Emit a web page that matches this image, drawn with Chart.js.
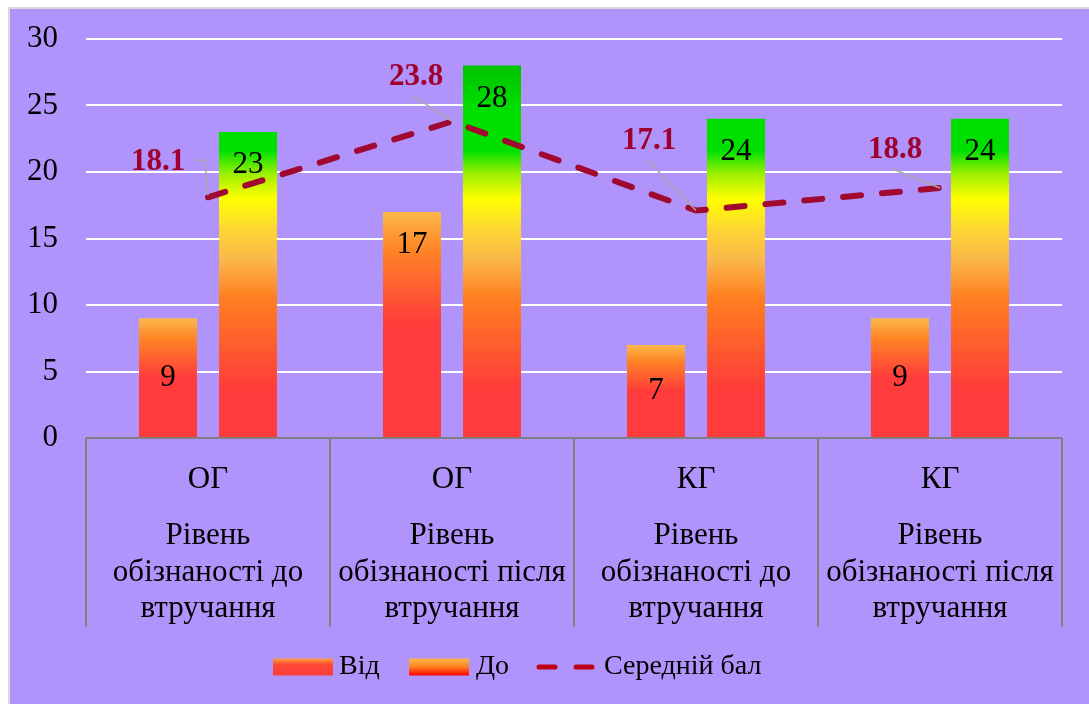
<!DOCTYPE html>
<html>
<head>
<meta charset="utf-8">
<script src="https://cdn.jsdelivr.net/npm/chart.js@4.4.1/dist/chart.umd.min.js"></script>
<style>
  html, body { margin: 0; padding: 0; background: #ffffff; }
  #wrap { width: 1089px; height: 704px; position: relative; }
</style>
</head>
<body>
<div id="wrap"><canvas id="chart" width="1089" height="704"></canvas></div>
<script>
// Groups and stages shown on the two-level category axis
const groups = ['ОГ', 'ОГ', 'КГ', 'КГ'];
const stages = [
  ['Рівень', 'обізнаності до', 'втручання'],
  ['Рівень', 'обізнаності після', 'втручання'],
  ['Рівень', 'обізнаності до', 'втручання'],
  ['Рівень', 'обізнаності після', 'втручання']
];
const seriesNames = ['Від', 'До', 'Середній бал'];
const fromValues = [9, 17, 7, 9];
const toValues = [23, 28, 24, 24];
const meanValues = [18.1, 23.8, 17.1, 18.8];
const yTickValues = [0, 5, 10, 15, 20, 25, 30];

// Placement of the mean-value callouts relative to their points
const calloutOffsets = [[-50, -35], [-36, -44], [-47, -70], [-45, -38]];
const calloutElbow = [true, false, false, false];

const SERIF = '"Liberation Serif", "Times New Roman", serif';
const PURPLE = '#B094FC';
const LINE_RED = '#A00A30';

// "До" bars: colour follows the height on the value axis
let toGradient = null;
function toFill(ctx) {
  const chart = ctx.chart;
  const area = chart.chartArea;
  if (!area) return '#FF3B3B';
  if (!toGradient) {
    const g = chart.ctx.createLinearGradient(0, area.bottom, 0, area.top);
    g.addColorStop(0.00, '#FF3B3B');
    g.addColorStop(0.12, '#FF3B3B');
    g.addColorStop(0.353, '#FF8020');
    g.addColorStop(0.447, '#FBB84A');
    g.addColorStop(0.52, '#FCD535');
    g.addColorStop(0.60, '#FFFF00');
    g.addColorStop(0.66, '#A0F000');
    g.addColorStop(0.72, '#00E000');
    g.addColorStop(0.82, '#00E000');
    g.addColorStop(1.00, '#00B000');
    toGradient = g;
  }
  return toGradient;
}

// "Від" bars: each bar shades from light orange at its top to red
function fromFill(ctx) {
  const chart = ctx.chart;
  if (!chart.chartArea || ctx.type !== 'data') return '#FF3B3B';
  const y = chart.scales.y;
  const top = y.getPixelForValue(ctx.raw);
  const bottom = y.getPixelForValue(0);
  const g = chart.ctx.createLinearGradient(0, top, 0, bottom);
  g.addColorStop(0.00, '#FBB84A');
  g.addColorStop(0.17, '#FF8425');
  g.addColorStop(0.50, '#FF3B3B');
  g.addColorStop(1.00, '#FF3B3B');
  return g;
}

const framePlugin = {
  id: 'frame',
  beforeDraw(chart) {
    const c = chart.ctx;
    c.save();
    c.fillStyle = '#ffffff';
    c.fillRect(0, 0, chart.width, chart.height);
    c.fillStyle = '#D9D9D9';
    c.fillRect(8, 7, chart.width - 8, chart.height - 7);
    c.fillStyle = PURPLE;
    c.fillRect(10, 9, chart.width - 10, chart.height - 9);
    c.restore();
  }
};

const annotatePlugin = {
  id: 'annotate',
  afterDatasetsDraw(chart) {
    const c = chart.ctx;
    const area = chart.chartArea;
    const xs = chart.scales.x;
    c.save();

    // value labels on bars
    c.font = '31px ' + SERIF;
    c.fillStyle = '#000000';
    c.textAlign = 'center';
    c.textBaseline = 'middle';
    [0, 1].forEach(di => {
      const meta = chart.getDatasetMeta(di);
      meta.data.forEach((el, i) => {
        const h = el.base - el.y;
        const ly = h > 150 ? el.y + 33 : (el.y + el.base) / 2;
        c.fillText(String(chart.data.datasets[di].data[i]), el.x, ly);
      });
    });

    // mean-value callouts with leader lines
    const lm = chart.getDatasetMeta(2);
    lm.data.forEach((pt, i) => {
      const cx = pt.x + calloutOffsets[i][0];
      const cy = pt.y + calloutOffsets[i][1];
      c.strokeStyle = '#A6A6A6';
      c.lineWidth = 1.5;
      c.beginPath();
      if (calloutElbow[i]) {
        c.moveTo(cx + 37, cy - 2);
        c.lineTo(pt.x - 3, cy - 2);
        c.lineTo(pt.x, pt.y - 2);
      } else {
        c.moveTo(cx - 2, cy + 19);
        c.lineTo(pt.x, pt.y);
      }
      c.stroke();
      c.font = 'bold 31px ' + SERIF;
      c.fillStyle = '#A0002E';
      c.fillText(meanValues[i].toFixed(1), cx, cy);
    });

    // two-level category axis
    const n = groups.length;
    const w = (area.right - area.left) / n;
    c.strokeStyle = '#808080';
    c.lineWidth = 2;
    for (let i = 0; i <= n; i++) {
      const x = Math.round(area.left + i * w);
      c.beginPath();
      c.moveTo(x, area.bottom);
      c.lineTo(x, area.bottom + 189);
      c.stroke();
    }
    c.fillStyle = '#000000';
    c.font = '31px ' + SERIF;
    groups.forEach((g, i) => {
      const x = xs.getPixelForValue(i);
      c.fillText(g, x, area.bottom + 42);
      stages[i].forEach((line, k) => {
        c.fillText(line, x, area.bottom + 98 + k * 36.5);
      });
    });

    // legend
    const ly = 667;
    const swW = 60, swH = 17;
    let g1 = c.createLinearGradient(0, ly - swH / 2, 0, ly + swH / 2);
    g1.addColorStop(0, '#FFA040');
    g1.addColorStop(0.35, '#FF4A35');
    g1.addColorStop(1, '#FF3B3B');
    c.fillStyle = g1;
    c.fillRect(273, ly - swH / 2, swW, swH);
    let g2 = c.createLinearGradient(0, ly - swH / 2, 0, ly + swH / 2);
    g2.addColorStop(0, '#FBB84A');
    g2.addColorStop(0.5, '#FF8020');
    g2.addColorStop(1, '#FF0000');
    c.fillStyle = g2;
    c.fillRect(409, ly - swH / 2, swW, swH);
    c.strokeStyle = '#C00018';
    c.lineWidth = 5;
    c.lineCap = 'round';
    c.beginPath();
    c.moveTo(539, ly); c.lineTo(555, ly);
    c.moveTo(576, ly); c.lineTo(592, ly);
    c.stroke();
    c.fillStyle = '#000000';
    c.font = '28px ' + SERIF;
    c.textAlign = 'left';
    c.fillText(seriesNames[0], 339, ly);
    c.fillText(seriesNames[1], 476, ly);
    c.fillText(seriesNames[2], 604, ly);
    c.restore();
  }
};

new Chart(document.getElementById('chart'), {
  type: 'bar',
  data: {
    labels: groups.map((g, i) => g + ' ' + stages[i].join(' ')),
    datasets: [
      {
        label: seriesNames[0],
        data: fromValues,
        backgroundColor: fromFill,
        order: 1,
        categoryPercentage: 0.656,
        barPercentage: 0.725
      },
      {
        label: seriesNames[1],
        data: toValues,
        backgroundColor: toFill,
        order: 1,
        categoryPercentage: 0.656,
        barPercentage: 0.725
      },
      {
        type: 'line',
        label: seriesNames[2],
        data: meanValues,
        borderColor: LINE_RED,
        borderWidth: 6,
        borderDash: [18, 21],
        borderCapStyle: 'round',
        pointRadius: 0,
        tension: 0,
        fill: false,
        order: 0
      }
    ]
  },
  options: {
    responsive: false,
    animation: false,
    devicePixelRatio: 1,
    layout: { padding: { left: 0, top: 39, right: 27, bottom: 78 } },
    plugins: {
      legend: { display: false },
      tooltip: { enabled: false }
    },
    scales: {
      x: {
        grid: { display: false },
        border: { display: false },
        ticks: { display: false },
        afterFit(scale) { scale.height = 188; }
      },
      y: {
        min: 0,
        max: 30,
        afterBuildTicks(scale) { scale.ticks = yTickValues.map(v => ({ value: v })); },
        ticks: {
          padding: 28,
          color: '#000000',
          font: { family: SERIF, size: 31 }
        },
        grid: {
          color: ctx => (ctx.tick && ctx.tick.value === 0) ? '#808080' : '#FFFFFF',
          lineWidth: 2,
          drawTicks: false
        },
        border: { display: false },
        afterFit(scale) {
          scale.width = 86;
          scale.paddingTop = 0;
          scale.paddingBottom = 0;
        }
      }
    }
  },
  plugins: [framePlugin, annotatePlugin]
});
</script>
</body>
</html>
